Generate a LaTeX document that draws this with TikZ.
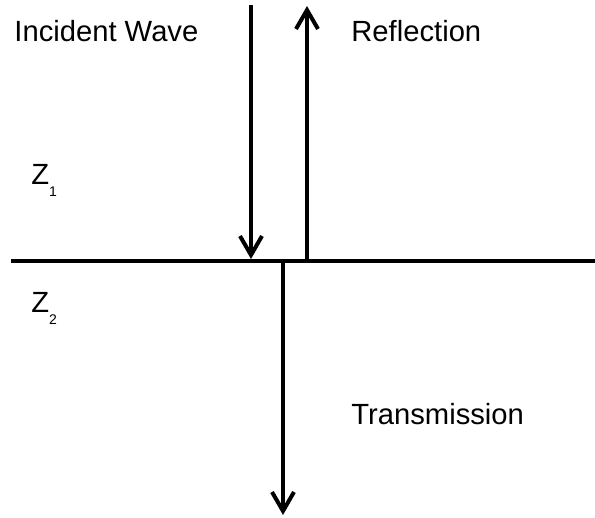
\documentclass[tikz,border=0pt]{standalone}
\usepackage{fontspec}
\setmainfont{Liberation Sans}
\usetikzlibrary{arrows.meta,positioning}
\tikzset{
  >={Straight Barb[length=9.5pt,width=11pt]},
  wave/.style={->, line width=2pt},
  lbl/.style={inner sep=0pt, anchor=base west, font=\fontsize{14.6}{17}\selectfont},
  medium/.style={inner sep=0pt, anchor=base west, font=\fontsize{14.6}{17}\selectfont}
}
\newcommand{\zsub}[1]{\raisebox{-6pt}{\fontsize{7}{8}\selectfont #1}}

\begin{document}
\begin{tikzpicture}[x=0.5pt,y=-0.5pt]
    \useasboundingbox (0,0) rectangle (595,518);

    % === Boundary between the two media ===
    \coordinate (bL) at (11,261);
    \coordinate (bR) at (595,261);
    \draw[line width=2pt] (bL) -- (bR);

    % === Waves ===
    \coordinate (inTop) at (251,5);
    \coordinate (inHit) at (251,259);
    \coordinate (reBase) at (307,261);
    \coordinate (reTop) at (307,6);
    \coordinate (trBase) at (283,261);
    \coordinate (trEnd) at (283,515);
    \draw[wave] (inTop) -- (inHit);
    \draw[wave] (reBase) -- (reTop);
    \draw[wave] (trBase) -- (trEnd);

    % === Labels ===
    \node[lbl] (incident) at (14,42) {Incident Wave};
    \node[lbl] (reflect) at (351,42) {Reflection};
    \node[lbl] (transmit) at (351,425) {Transmission};
    \node[medium] (z1) at (31,185) {Z\zsub{1}};
    \node[medium] (z2) at (31,313) {Z\zsub{2}};

\end{tikzpicture}
\end{document}
